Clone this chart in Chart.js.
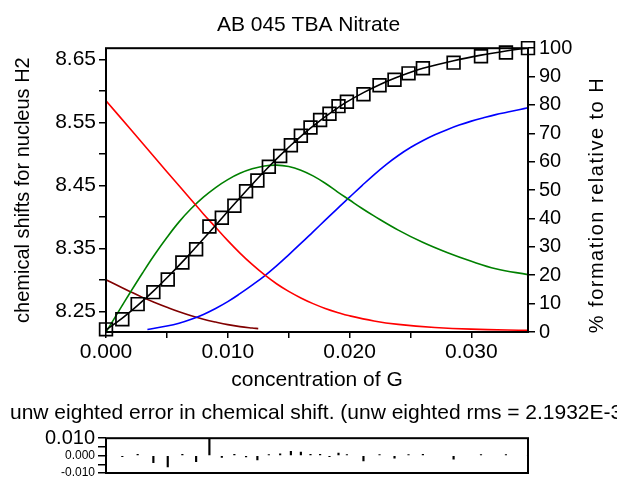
<!DOCTYPE html>
<html><head><meta charset="utf-8">
<script src="https://cdn.jsdelivr.net/npm/chart.js@4.4.1/dist/chart.umd.min.js"></script>
<style>
html,body{margin:0;padding:0;background:#fff;width:617px;height:477px;overflow:hidden;position:relative}
#main{position:absolute;left:0;top:0;width:617px;height:400px}
#resid{position:absolute;left:0;top:395px;width:700px;height:100px}
canvas{display:block}
</style></head><body>
<div id="main"><canvas id="c1" width="617" height="400"></canvas></div>
<div id="resid"><canvas id="c2" width="700" height="100"></canvas></div>
<script>
const FONT = "'Liberation Sans', Arial, sans-serif";

// ---------- data ----------
const chartTitle = 'AB 045 TBA Nitrate';
const xTitle = 'concentration of G';
const leftTitle = 'chemical shifts for nucleus H2';
const rightTitle = '% formation relative to H';
const residTitle = 'unw eighted error in chemical shift. (unw eighted rms = 2.1932E-3';

const xTickValues = [0, 0.005, 0.010, 0.015, 0.020, 0.025, 0.030];
const leftTickValues = [8.25, 8.30, 8.35, 8.40, 8.45, 8.50, 8.55, 8.60, 8.65];
const residTickValues = [-0.010, -0.005, 0, 0.005, 0.010];

const concentration = [0, 0.00134, 0.0026, 0.00389, 0.00507, 0.00627, 0.0074, 0.00849, 0.00951, 0.01054,
  0.0115, 0.01243, 0.01337, 0.0143, 0.01518, 0.016, 0.01679, 0.01758, 0.01835, 0.01909,
  0.01978, 0.02114, 0.02246, 0.02369, 0.02484, 0.02602, 0.02854, 0.03079, 0.03284, 0.03465];
const observedShift = [8.222, 8.238, 8.262, 8.281, 8.301, 8.328, 8.349, 8.385, 8.399, 8.418,
  8.441, 8.458, 8.480, 8.497, 8.514, 8.529, 8.542, 8.554, 8.564, 8.576,
  8.583, 8.595, 8.609, 8.618, 8.628, 8.636, 8.645, 8.655, 8.661, 8.668];
const fittedShift = [8.221, 8.2398, 8.2600, 8.2826, 8.3050, 8.3290, 8.3527, 8.3761, 8.3983, 8.4208,
  8.4414, 8.4609, 8.4799, 8.4979, 8.5140, 8.5282, 8.5411, 8.5532, 8.5642, 8.5741,
  8.5828, 8.5975, 8.6100, 8.6201, 8.6284, 8.6360, 8.6481, 8.6569, 8.6635, 8.6684];
const residual = [0, -0.0006, 0.0008, -0.004, -0.0065, 0.0008, -0.0035, 0.0100, -0.001, 0.0008,
  -0.0008, -0.0025, 0.0006, 0.001, 0.0025, 0.002, 0.0008, 0.0008, -0.0006, 0.0015,
  0.0006, -0.003, 0.0006, -0.0015, 0.0006, 0.0008, -0.002, 0.0006, 0.0006, 0];

// species distribution (% relative to H)
const hostX = [0, 0.002, 0.004, 0.006, 0.008, 0.009, 0.010, 0.011, 0.012, 0.013, 0.014, 0.015, 0.016, 0.017,
  0.018, 0.019, 0.020, 0.022, 0.024, 0.027, 0.030, 0.03465];
const hostPct = [81.5, 71.5, 61.5, 51.5, 41.6, 36.9, 32.2, 27.8, 23.8, 20.2, 17.0, 14.3, 12.0, 10.0,
  8.3, 6.9, 5.7, 3.9, 2.7, 1.6, 1.0, 0.6];
const complex1X = [0, 0.001, 0.002, 0.003, 0.004, 0.005, 0.006, 0.007, 0.008, 0.009, 0.010, 0.011, 0.012, 0.013, 0.014,
  0.015, 0.016, 0.017, 0.018, 0.019, 0.020, 0.021, 0.022, 0.024, 0.026, 0.028, 0.030, 0.032, 0.03465];
const complex1Pct = [0, 7.0, 14.0, 20.8, 27.3, 33.3, 38.8, 43.5, 47.5, 50.9, 53.7, 55.9, 57.5, 58.5, 58.8,
  58.3, 57.0, 55.0, 52.4, 49.4, 46.5, 43.6, 40.9, 35.9, 31.6, 28.0, 24.9, 22.3, 20.2];
const complex2X = [0.0034, 0.005, 0.006, 0.007, 0.008, 0.009, 0.010, 0.011, 0.012, 0.013, 0.014, 0.015, 0.016, 0.017,
  0.018, 0.019, 0.020, 0.021, 0.022, 0.023, 0.024, 0.025, 0.026, 0.027, 0.028, 0.029, 0.030, 0.031, 0.032, 0.033, 0.034, 0.03465];
const complex2Pct = [0.9, 2.1, 3.1, 4.5, 6.2, 8.3, 10.7, 13.5, 16.5, 19.7, 23.3, 27.2, 31.2, 35.3,
  39.4, 43.5, 47.5, 51.5, 55.4, 59.0, 62.2, 65.0, 67.4, 69.5, 71.3, 72.9, 74.3, 75.5, 76.6, 77.5, 78.4, 79.0];
const hostHX = [0, 0.001, 0.002, 0.003, 0.004, 0.005, 0.006, 0.007, 0.008, 0.009, 0.010, 0.011, 0.012, 0.0125];
const hostHPct = [18.4, 16.3, 14.2, 12.2, 10.4, 8.7, 7.1, 5.7, 4.5, 3.5, 2.6, 1.9, 1.4, 1.2];

// ---------- helpers ----------
const pts = (xs, ys) => xs.map((x, i) => ({x, y: ys[i]}));
const f = (size) => ({family: FONT, size, weight: 'normal', lineHeight: 1.2});

const frame = {
  id: 'frame',
  afterDatasetsDraw(chart) {
    const {ctx, chartArea: a} = chart;
    ctx.save();
    ctx.strokeStyle = '#000';
    ctx.lineWidth = 2;
    ctx.strokeRect(a.left, a.top, a.right - a.left, a.bottom - a.top);
    ctx.restore();
  }
};
const rightAxisTitle = {
  id: 'rightAxisTitle',
  afterDraw(chart) {
    const ctx = chart.ctx;
    ctx.save();
    ctx.translate(597, 205);
    ctx.rotate(-Math.PI / 2);
    ctx.font = `20px ${FONT}`;
    if ('letterSpacing' in ctx) ctx.letterSpacing = '1.5px';
    ctx.fillStyle = '#000';
    ctx.textAlign = 'center';
    ctx.textBaseline = 'middle';
    ctx.fillText(rightTitle, 0, 0);
    ctx.restore();
  }
};

const tickGrid = (len) => ({display: true, drawOnChartArea: false, drawTicks: true, tickLength: len, color: '#000', lineWidth: 1.5});

const curve = (xs, ys, color) => ({
  data: pts(xs, ys), yAxisID: 'y2', showLine: true, borderColor: color, borderWidth: 1.6,
  pointRadius: 0, tension: 0.4, fill: false
});

new Chart(document.getElementById('c1'), {
  type: 'scatter',
  data: {
    datasets: [
      {data: pts(concentration, observedShift), yAxisID: 'y', showLine: false, pointStyle: 'rect', pointRadius: 9,
       borderColor: '#000', borderWidth: 1.7, backgroundColor: 'rgba(0,0,0,0)', clip: false},
      {data: pts(concentration, fittedShift), yAxisID: 'y', showLine: true, borderColor: '#000', borderWidth: 1.6,
       pointRadius: 0, tension: 0.4},
      curve(hostX, hostPct, '#ff0000'),
      curve(complex1X, complex1Pct, '#008000'),
      curve(complex2X, complex2Pct, '#0000ff'),
      curve(hostHX, hostHPct, '#800000')
    ]
  },
  options: {
    responsive: false, animation: false, devicePixelRatio: 1,
    layout: {padding: 0},
    plugins: {
      legend: {display: false}, tooltip: {enabled: false},
      title: {display: true, text: chartTitle, color: '#000', font: f(21), padding: {top: 13, bottom: 10}}
    },
    scales: {
      x: {
        type: 'linear', min: 0, max: 0.03465,
        afterBuildTicks: s => { s.ticks = xTickValues.map(v => ({value: v})); },
        afterFit: s => { s.height = 68; },
        ticks: {autoSkip: false, maxRotation: 0, color: '#000', font: f(21), padding: 2,
          callback: (v, i) => (i % 2 === 0 ? v.toFixed(3) : '')},
        grid: tickGrid(6), border: {display: false},
        title: {display: true, text: xTitle, color: '#000', font: f(21), padding: {top: 0, bottom: 7}}
      },
      y: {
        type: 'linear', position: 'left', min: 8.2178, max: 8.6679,
        afterBuildTicks: s => { s.ticks = leftTickValues.map(v => ({value: v})); },
        afterFit: s => { s.width = 106; },
        ticks: {autoSkip: false, color: '#000', font: f(21), padding: 3,
          callback: (v, i) => (i % 2 === 0 ? v.toFixed(2) : '')},
        grid: tickGrid(7), border: {display: false},
        title: {display: true, text: leftTitle, color: '#000', font: f(20), padding: {top: 11, bottom: 0}}
      },
      y2: {
        type: 'linear', position: 'right', min: 0, max: 100,
        afterFit: s => { s.width = 89; },
        ticks: {stepSize: 10, autoSkip: false, color: '#000', font: f(20), padding: 4},
        grid: tickGrid(7), border: {display: false}
      }
    }
  },
  plugins: [frame, rightAxisTitle]
});

new Chart(document.getElementById('c2'), {
  type: 'bar',
  data: {
    datasets: [{data: pts(concentration, residual), backgroundColor: '#000', borderWidth: 0, barThickness: 1.5}]
  },
  options: {
    responsive: false, animation: false, devicePixelRatio: 1,
    layout: {padding: {left: 10, right: 0, top: 0, bottom: 22}},
    plugins: {
      legend: {display: false}, tooltip: {enabled: false},
      title: {display: true, text: residTitle, align: 'start', color: '#000', font: f(21), padding: {top: 6, bottom: 12}}
    },
    scales: {
      x: {type: 'linear', min: 0, max: 0.03465, offset: false, display: false},
      y: {
        type: 'linear', position: 'left', min: -0.010, max: 0.010,
        afterBuildTicks: s => { s.ticks = residTickValues.map(v => ({value: v})); },
        afterFit: s => { s.width = 96; },
        ticks: {autoSkip: false, color: '#000', padding: 3,
          font: c => (c.tick && Math.abs(c.tick.value - 0.01) < 1e-9 ? f(20) : f(12)),
          callback: (v) => (Math.abs(v - 0.01) < 1e-9 ? '0.010' : Math.abs(v) < 1e-9 ? '0.000' : Math.abs(v + 0.01) < 1e-9 ? '-0.010' : '')},
        grid: tickGrid(8), border: {display: false}
      },
      y2: {
        type: 'linear', position: 'right', min: 0, max: 1, display: true,
        afterFit: s => { s.width = 172; },
        ticks: {display: false}, grid: {display: false}, border: {display: false}
      }
    }
  },
  plugins: [frame]
});
</script>
</body></html>
